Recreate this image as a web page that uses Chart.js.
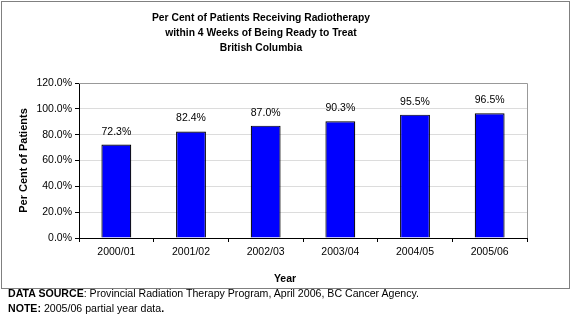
<!DOCTYPE html>
<html>
<head>
<meta charset="utf-8">
<script src="https://cdn.jsdelivr.net/npm/chart.js@4/dist/chart.umd.min.js"></script>
<style>
  body { margin: 0; background: #fff; font-family: "Liberation Sans", Arial, sans-serif; }
  #page { position: relative; width: 575px; height: 324px; }
  #box { position: absolute; left: 1px; top: 1px; width: 567px; height: 286px; border: 1px solid #808080; }
  #chartWrap { position: absolute; left: 0; top: 0; width: 567px; height: 286px; }
  #title { position: absolute; left: 0; top: 10px; width: 522px; text-align: center; font-weight: bold; font-size: 10.3px; line-height: 15px; color: #000; }
  #xTitle { position: absolute; left: 0; top: 272px; width: 570px; text-align: center; font-weight: bold; font-size: 10.5px; color: #000; }
  #notes { position: absolute; left: 8px; top: 286px; font-size: 10.6px; line-height: 15px; color: #000; }
</style>
</head>
<body>
<div id="page">
  <div id="box">
    <div id="chartWrap"><canvas id="chart"></canvas></div>
  </div>
  <div id="title">Per Cent of Patients Receiving Radiotherapy<br>within 4 Weeks of Being Ready to Treat<br>British Columbia</div>
  <div id="xTitle">Year</div>
  <div id="notes">
    <div><b>DATA SOURCE</b>: Provincial Radiation Therapy Program, April 2006, BC Cancer Agency.</div>
    <div><b>NOTE:</b> 2005/06 partial year data<b>.</b></div>
  </div>
</div>
<script>
const years = ['2000/01', '2001/02', '2002/03', '2003/04', '2004/05', '2005/06'];
const percentTreated = [72.3, 82.4, 87.0, 90.3, 95.5, 96.5];
const yTicks = [0, 20, 40, 60, 80, 100, 120];

const FONT = '"Liberation Sans", Arial, sans-serif';

// valores encima de cada barra
const barLabels = {
    id: 'barLabels',
    afterDatasetsDraw(chart) {
        const ctx = chart.ctx;
        const meta = chart.getDatasetMeta(0);
        ctx.save();
        ctx.font = '10.5px ' + FONT;
        ctx.fillStyle = '#000';
        ctx.textAlign = 'center';
        ctx.textBaseline = 'middle';
        meta.data.forEach((bar, i) => {
            ctx.fillText(percentTreated[i].toFixed(1) + '%', bar.x, bar.y - 13);
        });
        ctx.restore();
    }
};

// borde gris del área de trazado (arriba y derecha)
const plotFrame = {
    id: 'plotFrame',
    beforeDatasetsDraw(chart) {
        const { ctx, chartArea: a } = chart;
        ctx.save();
        ctx.strokeStyle = '#999';
        ctx.lineWidth = 1;
        ctx.beginPath();
        ctx.moveTo(a.left, Math.round(a.top) + 0.5);
        ctx.lineTo(Math.round(a.right) + 0.5, Math.round(a.top) + 0.5);
        ctx.lineTo(Math.round(a.right) + 0.5, a.bottom);
        ctx.stroke();
        ctx.restore();
    }
};

new Chart(document.getElementById('chart'), {
    type: 'bar',
    data: {
        labels: years,
        datasets: [{
            data: percentTreated,
            backgroundColor: '#0000FF',
            borderColor: '#000',
            borderWidth: 1.2,
            barPercentage: 0.4,
            categoryPercentage: 1.0
        }]
    },
    options: {
        responsive: true,
        maintainAspectRatio: false,
        animation: false,
        layout: { padding: { top: 81, right: 42, bottom: 0, left: 0 } },
        plugins: {
            legend: { display: false },
            tooltip: { enabled: false }
        },
        scales: {
            x: {
                offset: true,
                grid: {
                    offset: true,
                    drawOnChartArea: false,
                    tickLength: 4,
                    tickColor: '#000'
                },
                border: { color: '#000', width: 1 },
                ticks: {
                    color: '#000',
                    padding: 4,
                    font: { family: FONT, size: 10.5 },
                    maxRotation: 0
                },
                afterFit(scale) { scale.height = 50; }
            },
            y: {
                min: 0,
                max: 120,
                afterBuildTicks(scale) {
                    scale.ticks = yTicks.map(v => ({ value: v }));
                },
                grid: {
                    color: '#dcdcdc',
                    tickColor: '#000',
                    tickLength: 4
                },
                border: { color: '#000', width: 1 },
                ticks: {
                    color: '#000',
                    padding: 3,
                    font: { family: FONT, size: 10.5 },
                    callback: v => v.toFixed(1) + '%'
                },
                title: {
                    display: true,
                    text: 'Per Cent of Patients',
                    color: '#000',
                    font: { family: FONT, size: 11, weight: 'bold' },
                    padding: { top: 15, bottom: 0 }
                },
                afterFit(scale) { scale.width = 77; }
            }
        }
    },
    plugins: [barLabels, plotFrame]
});
</script>
</body>
</html>
